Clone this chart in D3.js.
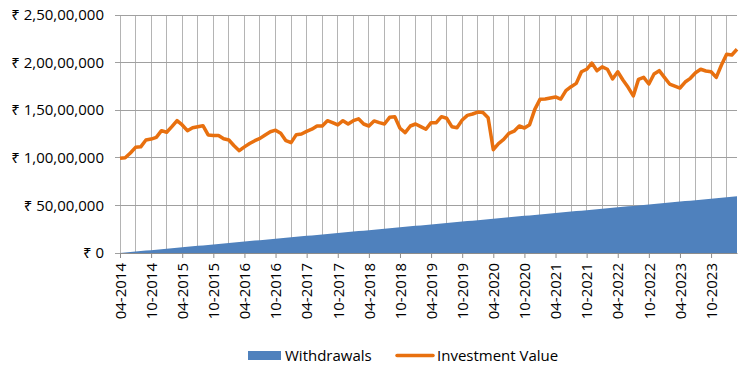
<!DOCTYPE html>
<html><head><meta charset="utf-8">
<script src="https://cdn.jsdelivr.net/npm/d3@7"></script>
<style>body{margin:0;background:#fff;} text{font-family:"Open Sans","Noto Sans","DejaVu Sans",sans-serif;fill:#000;}</style>
</head><body><svg id="c" width="746" height="369"></svg>
<script>
// Months 04-2014 .. 03-2024
const startYear = 2014, startMonth = 4, monthCount = 120;
const months = [];
for (let i = 0; i < monthCount; i++) { const m = (startMonth - 1 + i) % 12 + 1, y = startYear + Math.floor((startMonth - 1 + i) / 12); months.push(String(m).padStart(2, "0") + "-" + y); }

// values in lakhs of rupees
const withdrawals = [0,0.5,1,1.5,2,2.5,3,3.5,4,4.5,5,5.5,6,6.5,7,7.5,8,8.5,9,9.5,10,10.5,11,11.5,12,12.5,13,13.5,14,14.5,15,15.5,16,16.5,17,17.5,18,18.5,19,19.5,20,20.5,21,21.5,22,22.5,23,23.5,24,24.5,25,25.5,26,26.5,27,27.5,28,28.5,29,29.5,30,30.5,31,31.5,32,32.5,33,33.5,34,34.5,35,35.5,36,36.5,37,37.5,38,38.5,39,39.5,40,40.5,41,41.5,42,42.5,43,43.5,44,44.5,45,45.5,46,46.5,47,47.5,48,48.5,49,49.5,50,50.5,51,51.5,52,52.5,53,53.5,54,54.5,55,55.5,56,56.5,57,57.5,58,58.5,59,59.5];
const investmentValue = [99.5,100,105,111,111.5,118.7,119.7,121.5,128.5,126.8,132.7,139,134.5,128.5,131.6,132.7,133.7,124,123.5,123.5,120,118.7,112.7,107.5,111.5,115,118,120.4,124,127.4,129,125.7,118,115.9,124.3,125,127.8,130,133.4,133.4,139,136.9,134.5,139,135.5,139,141,135.5,133.4,138.7,136.9,135.5,142.5,143.2,131,126.4,133.4,135.5,132.7,130,136.9,136.9,143.2,141.5,132.7,131.6,139.7,144.6,146,148,147.5,142,108.5,115,119.4,125.7,128,133.4,131.3,134.8,150.9,161.4,161.7,162.8,163.9,161.7,170.5,174.7,178.2,190.4,193,199.5,191.5,195.5,193,182.8,190.4,181.7,174,165,182.4,184.5,177.5,188,191.5,184.5,177.5,175.4,173.3,179.6,183.5,189.4,193,191.2,190.4,184.5,197.5,208.7,208,214];
const yTickValues = [0, 5000000, 10000000, 15000000, 20000000, 25000000];
const yTickLabels = ["₹ 0", "₹ 50,00,000", "₹ 1,00,00,000", "₹ 1,50,00,000", "₹ 2,00,00,000", "₹ 2,50,00,000"];
const seriesNames = ["Withdrawals", "Investment Value"];
const colors = ["#4f81bd", "#e8700f"];

const L = 120, R = 737, T = 15, B = 253;
const svg = d3.select("#c");
const x = d3.scalePoint().domain(months).range([L, R]);
const y = d3.scaleLinear().domain([0, 25000000]).range([B, T]);

// vertical gridlines (quarterly)
svg.append("g").selectAll("line").data(months.filter((d, i) => i % 3 === 0)).join("line")
  .attr("x1", d => x(d)).attr("x2", d => x(d)).attr("y1", T).attr("y2", B)
  .attr("stroke", "#b4b4b4").attr("stroke-width", 1).attr("shape-rendering", "crispEdges");
// horizontal gridlines
svg.append("g").selectAll("line").data(yTickValues).join("line")
  .attr("x1", L - 5).attr("x2", R).attr("y1", d => y(d)).attr("y2", d => y(d))
  .attr("stroke", "#a0a0a0").attr("stroke-width", 1).attr("shape-rendering", "crispEdges");

// area
svg.append("path").datum(withdrawals)
  .attr("d", d3.area().x((d, i) => x(months[i])).y0(y(0)).y1(d => y(d * 1e5)))
  .attr("fill", colors[0]);

// line
svg.append("path").datum(investmentValue)
  .attr("d", d3.line().x((d, i) => x(months[i])).y(d => y(d * 1e5)))
  .attr("fill", "none").attr("stroke", colors[1]).attr("stroke-width", 3.5).attr("stroke-linejoin", "round");

// x axis
const xAxis = d3.axisBottom(x).tickValues(months.filter((d, i) => i % 6 === 0)).tickSize(5).tickSizeOuter(0);
const gx = svg.append("g").attr("transform", `translate(0,${B})`).call(xAxis);
gx.select(".domain").attr("stroke", "#8c8c8c");
gx.selectAll(".tick line").attr("stroke", "#8c8c8c");
gx.selectAll(".tick text").attr("font-size", 15).attr("transform", "rotate(-90)")
  .attr("text-anchor", "end").attr("x", -10).attr("y", 0).attr("dy", "0.35em");

// y axis labels
svg.append("g").selectAll("text").data(yTickValues).join("text")
  .attr("x", 104).attr("y", d => y(d)).attr("dy", "0.35em").attr("text-anchor", "end")
  .attr("font-size", 15).text((d, i) => yTickLabels[i]);

// legend
const lg = svg.append("g");
lg.append("rect").attr("x", 248).attr("y", 351).attr("width", 33).attr("height", 9).attr("fill", colors[0]);
lg.append("text").attr("x", 285).attr("y", 355.5).attr("dy", "0.35em").attr("font-size", 15).text(seriesNames[0]);
lg.append("line").attr("x1", 397).attr("x2", 433).attr("y1", 355.5).attr("y2", 355.5).attr("stroke", colors[1]).attr("stroke-width", 3.5).attr("stroke-linecap", "round");
lg.append("text").attr("x", 437).attr("y", 355.5).attr("dy", "0.35em").attr("font-size", 15).text(seriesNames[1]);
</script></body></html>
